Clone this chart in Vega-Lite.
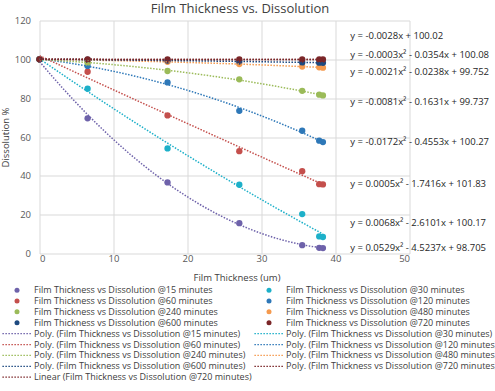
{
  "$schema": "https://vega.github.io/schema/vega-lite/v6.json",
  "autosize": "none",
  "width": 370,
  "height": 233,
  "padding": {"left": 39.5, "top": 20.5, "right": 85.5, "bottom": 137.5},
  "background": "white",
  "config": {
    "font": "Open Sans",
    "view": {"stroke": null},
    "axis": {"labelFont": "Open Sans", "titleFont": "Open Sans", "labelColor": "#595959", "titleColor": "#404040", "labelFontSize": 9.5, "titleFontSize": 9.5, "titleFontWeight": "normal", "gridColor": "#D9D9D9", "gridWidth": 1, "domain": false, "ticks": false},
    "legend": {"labelFont": "Open Sans", "labelFontSize": 9, "labelColor": "#404040"}
  },
  "title": {"text": "Film Thickness vs. Dissolution", "fontSize": 13, "fontWeight": "normal", "color": "#404040", "font": "Open Sans", "dx": 15.5, "offset": 0},
  "data": {"values": [
    {"series": "Film Thickness vs Dissolution @15 minutes", "poly": "Poly. (Film Thickness vs Dissolution @15 minutes)", "x": 0, "y": 100},
    {"series": "Film Thickness vs Dissolution @15 minutes", "poly": "Poly. (Film Thickness vs Dissolution @15 minutes)", "x": 6.5, "y": 69.6},
    {"series": "Film Thickness vs Dissolution @15 minutes", "poly": "Poly. (Film Thickness vs Dissolution @15 minutes)", "x": 17.3, "y": 36.6},
    {"series": "Film Thickness vs Dissolution @15 minutes", "poly": "Poly. (Film Thickness vs Dissolution @15 minutes)", "x": 27, "y": 15.6},
    {"series": "Film Thickness vs Dissolution @15 minutes", "poly": "Poly. (Film Thickness vs Dissolution @15 minutes)", "x": 35.5, "y": 4.3},
    {"series": "Film Thickness vs Dissolution @15 minutes", "poly": "Poly. (Film Thickness vs Dissolution @15 minutes)", "x": 37.8, "y": 2.9},
    {"series": "Film Thickness vs Dissolution @15 minutes", "poly": "Poly. (Film Thickness vs Dissolution @15 minutes)", "x": 38.3, "y": 2.8},
    {"series": "Film Thickness vs Dissolution @30 minutes", "poly": "Poly. (Film Thickness vs Dissolution @30 minutes)", "x": 0, "y": 100},
    {"series": "Film Thickness vs Dissolution @30 minutes", "poly": "Poly. (Film Thickness vs Dissolution @30 minutes)", "x": 6.5, "y": 84.9},
    {"series": "Film Thickness vs Dissolution @30 minutes", "poly": "Poly. (Film Thickness vs Dissolution @30 minutes)", "x": 17.3, "y": 54.1},
    {"series": "Film Thickness vs Dissolution @30 minutes", "poly": "Poly. (Film Thickness vs Dissolution @30 minutes)", "x": 27, "y": 35.4},
    {"series": "Film Thickness vs Dissolution @30 minutes", "poly": "Poly. (Film Thickness vs Dissolution @30 minutes)", "x": 35.5, "y": 20.3},
    {"series": "Film Thickness vs Dissolution @30 minutes", "poly": "Poly. (Film Thickness vs Dissolution @30 minutes)", "x": 37.8, "y": 8.8},
    {"series": "Film Thickness vs Dissolution @30 minutes", "poly": "Poly. (Film Thickness vs Dissolution @30 minutes)", "x": 38.3, "y": 8.5},
    {"series": "Film Thickness vs Dissolution @60 minutes", "poly": "Poly. (Film Thickness vs Dissolution @60 minutes)", "x": 0, "y": 100},
    {"series": "Film Thickness vs Dissolution @60 minutes", "poly": "Poly. (Film Thickness vs Dissolution @60 minutes)", "x": 6.5, "y": 93.6},
    {"series": "Film Thickness vs Dissolution @60 minutes", "poly": "Poly. (Film Thickness vs Dissolution @60 minutes)", "x": 17.3, "y": 71.1},
    {"series": "Film Thickness vs Dissolution @60 minutes", "poly": "Poly. (Film Thickness vs Dissolution @60 minutes)", "x": 27, "y": 52.7},
    {"series": "Film Thickness vs Dissolution @60 minutes", "poly": "Poly. (Film Thickness vs Dissolution @60 minutes)", "x": 35.5, "y": 42.4},
    {"series": "Film Thickness vs Dissolution @60 minutes", "poly": "Poly. (Film Thickness vs Dissolution @60 minutes)", "x": 37.8, "y": 35.7},
    {"series": "Film Thickness vs Dissolution @60 minutes", "poly": "Poly. (Film Thickness vs Dissolution @60 minutes)", "x": 38.3, "y": 35.6},
    {"series": "Film Thickness vs Dissolution @120 minutes", "poly": "Poly. (Film Thickness vs Dissolution @120 minutes)", "x": 0, "y": 100},
    {"series": "Film Thickness vs Dissolution @120 minutes", "poly": "Poly. (Film Thickness vs Dissolution @120 minutes)", "x": 6.5, "y": 96.6},
    {"series": "Film Thickness vs Dissolution @120 minutes", "poly": "Poly. (Film Thickness vs Dissolution @120 minutes)", "x": 17.3, "y": 88.1},
    {"series": "Film Thickness vs Dissolution @120 minutes", "poly": "Poly. (Film Thickness vs Dissolution @120 minutes)", "x": 27, "y": 73.5},
    {"series": "Film Thickness vs Dissolution @120 minutes", "poly": "Poly. (Film Thickness vs Dissolution @120 minutes)", "x": 35.5, "y": 63.2},
    {"series": "Film Thickness vs Dissolution @120 minutes", "poly": "Poly. (Film Thickness vs Dissolution @120 minutes)", "x": 37.8, "y": 58.1},
    {"series": "Film Thickness vs Dissolution @120 minutes", "poly": "Poly. (Film Thickness vs Dissolution @120 minutes)", "x": 38.3, "y": 57.4},
    {"series": "Film Thickness vs Dissolution @240 minutes", "poly": "Poly. (Film Thickness vs Dissolution @240 minutes)", "x": 0, "y": 100},
    {"series": "Film Thickness vs Dissolution @240 minutes", "poly": "Poly. (Film Thickness vs Dissolution @240 minutes)", "x": 6.5, "y": 98.3},
    {"series": "Film Thickness vs Dissolution @240 minutes", "poly": "Poly. (Film Thickness vs Dissolution @240 minutes)", "x": 17.3, "y": 94.0},
    {"series": "Film Thickness vs Dissolution @240 minutes", "poly": "Poly. (Film Thickness vs Dissolution @240 minutes)", "x": 27, "y": 89.7},
    {"series": "Film Thickness vs Dissolution @240 minutes", "poly": "Poly. (Film Thickness vs Dissolution @240 minutes)", "x": 35.5, "y": 83.8},
    {"series": "Film Thickness vs Dissolution @240 minutes", "poly": "Poly. (Film Thickness vs Dissolution @240 minutes)", "x": 37.8, "y": 81.8},
    {"series": "Film Thickness vs Dissolution @240 minutes", "poly": "Poly. (Film Thickness vs Dissolution @240 minutes)", "x": 38.3, "y": 81.4},
    {"series": "Film Thickness vs Dissolution @480 minutes", "poly": "Poly. (Film Thickness vs Dissolution @480 minutes)", "x": 0, "y": 100},
    {"series": "Film Thickness vs Dissolution @480 minutes", "poly": "Poly. (Film Thickness vs Dissolution @480 minutes)", "x": 6.5, "y": 99.5},
    {"series": "Film Thickness vs Dissolution @480 minutes", "poly": "Poly. (Film Thickness vs Dissolution @480 minutes)", "x": 17.3, "y": 98.7},
    {"series": "Film Thickness vs Dissolution @480 minutes", "poly": "Poly. (Film Thickness vs Dissolution @480 minutes)", "x": 27, "y": 97.6},
    {"series": "Film Thickness vs Dissolution @480 minutes", "poly": "Poly. (Film Thickness vs Dissolution @480 minutes)", "x": 35.5, "y": 96.3},
    {"series": "Film Thickness vs Dissolution @480 minutes", "poly": "Poly. (Film Thickness vs Dissolution @480 minutes)", "x": 37.8, "y": 95.9},
    {"series": "Film Thickness vs Dissolution @480 minutes", "poly": "Poly. (Film Thickness vs Dissolution @480 minutes)", "x": 38.3, "y": 95.7},
    {"series": "Film Thickness vs Dissolution @600 minutes", "poly": "Poly. (Film Thickness vs Dissolution @600 minutes)", "x": 0, "y": 100},
    {"series": "Film Thickness vs Dissolution @600 minutes", "poly": "Poly. (Film Thickness vs Dissolution @600 minutes)", "x": 6.5, "y": 99.8},
    {"series": "Film Thickness vs Dissolution @600 minutes", "poly": "Poly. (Film Thickness vs Dissolution @600 minutes)", "x": 17.3, "y": 99.4},
    {"series": "Film Thickness vs Dissolution @600 minutes", "poly": "Poly. (Film Thickness vs Dissolution @600 minutes)", "x": 27, "y": 98.9},
    {"series": "Film Thickness vs Dissolution @600 minutes", "poly": "Poly. (Film Thickness vs Dissolution @600 minutes)", "x": 35.5, "y": 98.4},
    {"series": "Film Thickness vs Dissolution @600 minutes", "poly": "Poly. (Film Thickness vs Dissolution @600 minutes)", "x": 37.8, "y": 98.3},
    {"series": "Film Thickness vs Dissolution @600 minutes", "poly": "Poly. (Film Thickness vs Dissolution @600 minutes)", "x": 38.3, "y": 98.2},
    {"series": "Film Thickness vs Dissolution @720 minutes", "poly": "Poly. (Film Thickness vs Dissolution @720 minutes)", "linear": "Linear (Film Thickness vs Dissolution @720 minutes)", "x": 0, "y": 100},
    {"series": "Film Thickness vs Dissolution @720 minutes", "poly": "Poly. (Film Thickness vs Dissolution @720 minutes)", "linear": "Linear (Film Thickness vs Dissolution @720 minutes)", "x": 6.5, "y": 100},
    {"series": "Film Thickness vs Dissolution @720 minutes", "poly": "Poly. (Film Thickness vs Dissolution @720 minutes)", "linear": "Linear (Film Thickness vs Dissolution @720 minutes)", "x": 17.3, "y": 99.95},
    {"series": "Film Thickness vs Dissolution @720 minutes", "poly": "Poly. (Film Thickness vs Dissolution @720 minutes)", "linear": "Linear (Film Thickness vs Dissolution @720 minutes)", "x": 27, "y": 99.9},
    {"series": "Film Thickness vs Dissolution @720 minutes", "poly": "Poly. (Film Thickness vs Dissolution @720 minutes)", "linear": "Linear (Film Thickness vs Dissolution @720 minutes)", "x": 35.5, "y": 99.9},
    {"series": "Film Thickness vs Dissolution @720 minutes", "poly": "Poly. (Film Thickness vs Dissolution @720 minutes)", "linear": "Linear (Film Thickness vs Dissolution @720 minutes)", "x": 37.8, "y": 99.9},
    {"series": "Film Thickness vs Dissolution @720 minutes", "poly": "Poly. (Film Thickness vs Dissolution @720 minutes)", "linear": "Linear (Film Thickness vs Dissolution @720 minutes)", "x": 38.3, "y": 99.9}
  ]},
  "encoding": {
    "x": {"field": "x", "type": "quantitative", "scale": {"domain": [0, 50], "nice": false, "zero": false}, "axis": {"values": [0, 10, 20, 30, 40, 50], "title": "Film Thickness (um)", "labelPadding": 0, "titlePadding": 9, "titleX": 197, "grid": true}},
    "y": {"field": "y", "type": "quantitative", "scale": {"domain": [0, 120], "nice": false}, "axis": {"values": [0, 20, 40, 60, 80, 100, 120], "title": "Dissolution %", "labelPadding": 9, "titlePadding": 4, "grid": true}}
  },
  "layer": [
    {
      "mark": {"type": "point", "filled": true, "opacity": 1, "size": 40},
      "encoding": {
        "color": {"field": "series", "type": "nominal",
          "scale": {
            "domain": [
              "Film Thickness vs Dissolution @15 minutes",
              "Film Thickness vs Dissolution @60 minutes",
              "Film Thickness vs Dissolution @240 minutes",
              "Film Thickness vs Dissolution @600 minutes",
              "Poly. (Film Thickness vs Dissolution @15 minutes)",
              "Poly. (Film Thickness vs Dissolution @60 minutes)",
              "Poly. (Film Thickness vs Dissolution @240 minutes)",
              "Poly. (Film Thickness vs Dissolution @600 minutes)",
              "Linear (Film Thickness vs Dissolution @720 minutes)",
              "Film Thickness vs Dissolution @30 minutes",
              "Film Thickness vs Dissolution @120 minutes",
              "Film Thickness vs Dissolution @480 minutes",
              "Film Thickness vs Dissolution @720 minutes",
              "Poly. (Film Thickness vs Dissolution @30 minutes)",
              "Poly. (Film Thickness vs Dissolution @120 minutes)",
              "Poly. (Film Thickness vs Dissolution @480 minutes)",
              "Poly. (Film Thickness vs Dissolution @720 minutes)"
            ],
            "range": ["#6E62AA", "#C44F4C", "#9BBB59", "#1E4A80", "#6E62AA", "#C44F4C", "#9BBB59", "#1E4A80", "#7B2628",
                      "#1DB0C9", "#2E78B8", "#F59A4E", "#7B2628", "#1DB0C9", "#2E78B8", "#F59A4E", "#7B2628"]
          },
          "legend": {
            "title": null, "orient": "none", "legendX": -27, "legendY": 265, "columns": 2, "gridAlign": "all",
            "columnPadding": 1, "rowPadding": 0.9, "symbolSize": 25, "labelOffset": 12.6, "padding": 0, "labelLimit": 400,
            "symbolStrokeWidth": 0
          }
        },
        "shape": {"field": "series", "type": "nominal",
          "scale": {
            "domain": [
              "Film Thickness vs Dissolution @15 minutes",
              "Film Thickness vs Dissolution @60 minutes",
              "Film Thickness vs Dissolution @240 minutes",
              "Film Thickness vs Dissolution @600 minutes",
              "Poly. (Film Thickness vs Dissolution @15 minutes)",
              "Poly. (Film Thickness vs Dissolution @60 minutes)",
              "Poly. (Film Thickness vs Dissolution @240 minutes)",
              "Poly. (Film Thickness vs Dissolution @600 minutes)",
              "Linear (Film Thickness vs Dissolution @720 minutes)",
              "Film Thickness vs Dissolution @30 minutes",
              "Film Thickness vs Dissolution @120 minutes",
              "Film Thickness vs Dissolution @480 minutes",
              "Film Thickness vs Dissolution @720 minutes",
              "Poly. (Film Thickness vs Dissolution @30 minutes)",
              "Poly. (Film Thickness vs Dissolution @120 minutes)",
              "Poly. (Film Thickness vs Dissolution @480 minutes)",
              "Poly. (Film Thickness vs Dissolution @720 minutes)"
            ],
            "range": ["circle", "circle", "circle", "circle",
              "M-5.84,-0.25h0.6v0.5h-0.6Z M-4.64,-0.25h0.6v0.5h-0.6Z M-3.44,-0.25h0.6v0.5h-0.6Z M-2.24,-0.25h0.6v0.5h-0.6Z M-1.04,-0.25h0.6v0.5h-0.6Z M0.16,-0.25h0.6v0.5h-0.6Z M1.36,-0.25h0.6v0.5h-0.6Z M2.56,-0.25h0.6v0.5h-0.6Z M3.76,-0.25h0.6v0.5h-0.6Z M4.96,-0.25h0.6v0.5h-0.6Z",
              "M-5.84,-0.25h0.6v0.5h-0.6Z M-4.64,-0.25h0.6v0.5h-0.6Z M-3.44,-0.25h0.6v0.5h-0.6Z M-2.24,-0.25h0.6v0.5h-0.6Z M-1.04,-0.25h0.6v0.5h-0.6Z M0.16,-0.25h0.6v0.5h-0.6Z M1.36,-0.25h0.6v0.5h-0.6Z M2.56,-0.25h0.6v0.5h-0.6Z M3.76,-0.25h0.6v0.5h-0.6Z M4.96,-0.25h0.6v0.5h-0.6Z",
              "M-5.84,-0.25h0.6v0.5h-0.6Z M-4.64,-0.25h0.6v0.5h-0.6Z M-3.44,-0.25h0.6v0.5h-0.6Z M-2.24,-0.25h0.6v0.5h-0.6Z M-1.04,-0.25h0.6v0.5h-0.6Z M0.16,-0.25h0.6v0.5h-0.6Z M1.36,-0.25h0.6v0.5h-0.6Z M2.56,-0.25h0.6v0.5h-0.6Z M3.76,-0.25h0.6v0.5h-0.6Z M4.96,-0.25h0.6v0.5h-0.6Z",
              "M-5.84,-0.25h0.6v0.5h-0.6Z M-4.64,-0.25h0.6v0.5h-0.6Z M-3.44,-0.25h0.6v0.5h-0.6Z M-2.24,-0.25h0.6v0.5h-0.6Z M-1.04,-0.25h0.6v0.5h-0.6Z M0.16,-0.25h0.6v0.5h-0.6Z M1.36,-0.25h0.6v0.5h-0.6Z M2.56,-0.25h0.6v0.5h-0.6Z M3.76,-0.25h0.6v0.5h-0.6Z M4.96,-0.25h0.6v0.5h-0.6Z",
              "M-5.84,-0.25h0.6v0.5h-0.6Z M-4.64,-0.25h0.6v0.5h-0.6Z M-3.44,-0.25h0.6v0.5h-0.6Z M-2.24,-0.25h0.6v0.5h-0.6Z M-1.04,-0.25h0.6v0.5h-0.6Z M0.16,-0.25h0.6v0.5h-0.6Z M1.36,-0.25h0.6v0.5h-0.6Z M2.56,-0.25h0.6v0.5h-0.6Z M3.76,-0.25h0.6v0.5h-0.6Z M4.96,-0.25h0.6v0.5h-0.6Z",
              "circle", "circle", "circle", "circle",
              "M-5.84,-0.25h0.6v0.5h-0.6Z M-4.64,-0.25h0.6v0.5h-0.6Z M-3.44,-0.25h0.6v0.5h-0.6Z M-2.24,-0.25h0.6v0.5h-0.6Z M-1.04,-0.25h0.6v0.5h-0.6Z M0.16,-0.25h0.6v0.5h-0.6Z M1.36,-0.25h0.6v0.5h-0.6Z M2.56,-0.25h0.6v0.5h-0.6Z M3.76,-0.25h0.6v0.5h-0.6Z M4.96,-0.25h0.6v0.5h-0.6Z",
              "M-5.84,-0.25h0.6v0.5h-0.6Z M-4.64,-0.25h0.6v0.5h-0.6Z M-3.44,-0.25h0.6v0.5h-0.6Z M-2.24,-0.25h0.6v0.5h-0.6Z M-1.04,-0.25h0.6v0.5h-0.6Z M0.16,-0.25h0.6v0.5h-0.6Z M1.36,-0.25h0.6v0.5h-0.6Z M2.56,-0.25h0.6v0.5h-0.6Z M3.76,-0.25h0.6v0.5h-0.6Z M4.96,-0.25h0.6v0.5h-0.6Z",
              "M-5.84,-0.25h0.6v0.5h-0.6Z M-4.64,-0.25h0.6v0.5h-0.6Z M-3.44,-0.25h0.6v0.5h-0.6Z M-2.24,-0.25h0.6v0.5h-0.6Z M-1.04,-0.25h0.6v0.5h-0.6Z M0.16,-0.25h0.6v0.5h-0.6Z M1.36,-0.25h0.6v0.5h-0.6Z M2.56,-0.25h0.6v0.5h-0.6Z M3.76,-0.25h0.6v0.5h-0.6Z M4.96,-0.25h0.6v0.5h-0.6Z",
              "M-5.84,-0.25h0.6v0.5h-0.6Z M-4.64,-0.25h0.6v0.5h-0.6Z M-3.44,-0.25h0.6v0.5h-0.6Z M-2.24,-0.25h0.6v0.5h-0.6Z M-1.04,-0.25h0.6v0.5h-0.6Z M0.16,-0.25h0.6v0.5h-0.6Z M1.36,-0.25h0.6v0.5h-0.6Z M2.56,-0.25h0.6v0.5h-0.6Z M3.76,-0.25h0.6v0.5h-0.6Z M4.96,-0.25h0.6v0.5h-0.6Z"
            ]
          },
          "legend": {
            "title": null, "orient": "none", "legendX": -27, "legendY": 265, "columns": 2, "gridAlign": "all",
            "columnPadding": 1, "rowPadding": 0.9, "symbolSize": 25, "labelOffset": 12.6, "padding": 0, "labelLimit": 400,
            "symbolStrokeWidth": 0
          }
        }
      }
    },
    {
      "transform": [{"regression": "y", "on": "x", "method": "poly", "order": 2, "groupby": ["poly"]}],
      "mark": {"type": "line", "strokeWidth": 1.5, "strokeDash": [1.5, 1.5], "clip": true},
      "encoding": {"color": {"field": "poly", "type": "nominal"}}
    },
    {
      "transform": [{"filter": "isValid(datum.linear)"}, {"regression": "y", "on": "x", "method": "linear", "groupby": ["linear"]}],
      "mark": {"type": "line", "strokeWidth": 1.5, "strokeDash": [1.5, 1.5], "clip": true},
      "encoding": {"color": {"field": "linear", "type": "nominal"}}
    },
    {
      "data": {"values": [
        {"eq": "y = -0.0028x + 100.02", "x": 42, "y": 112},
        {"eq": "y = -0.0003x² - 0.0354x + 100.08", "x": 42, "y": 102.2},
        {"eq": "y = -0.0021x² - 0.0238x + 99.752", "x": 42, "y": 93.4},
        {"eq": "y = -0.0081x² - 0.1631x + 99.737", "x": 42, "y": 78},
        {"eq": "y = -0.0172x² - 0.4553x + 100.27", "x": 42, "y": 57.4},
        {"eq": "y = 0.0005x² - 1.7416x + 101.83", "x": 42, "y": 35.7},
        {"eq": "y = 0.0068x² - 2.6101x + 100.17", "x": 42, "y": 15.6},
        {"eq": "y = 0.0529x² - 4.5237x + 98.705", "x": 42, "y": 2.7}
      ]},
      "mark": {"type": "text", "align": "left", "baseline": "middle", "fontSize": 9.5, "font": "Open Sans", "color": "#262626"},
      "encoding": {"text": {"field": "eq", "type": "nominal"}}
    }
  ]
}
